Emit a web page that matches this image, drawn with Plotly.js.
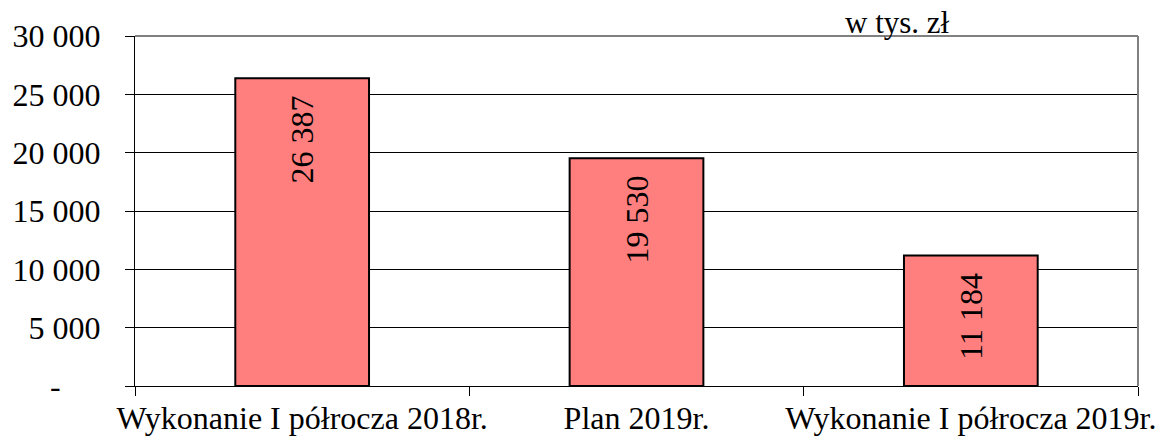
<!DOCTYPE html>
<html>
<head>
<meta charset="utf-8">
<script src="https://cdn.plot.ly/plotly-3.0.1.min.js"></script>
<style>html,body{margin:0;padding:0;background:#fff;}#chart{width:1156px;height:439px;}</style>
</head>
<body>
<div id="chart"></div>
<script>
const categories = ["Wykonanie I półrocza 2018r.", "Plan 2019r.", "Wykonanie I półrocza 2019r."];
const values = [26387, 19530, 11184];
const yTickVals = [0, 5000, 10000, 15000, 20000, 25000, 30000];
const yTickText = ["-\u00a0\u00a0\u00a0\u00a0\u00a0", "5 000", "10 000", "15 000", "20 000", "25 000", "30 000"];
const unitLabel = "w tys. zł";

const font = "Liberation Serif";

const trace = {
  type: "bar",
  x: categories,
  y: values,
  width: 0.4,
  marker: {color: "#FF7F7F", line: {color: "#000000", width: 2}},
  texttemplate: "%{y:,}\u00a0\u2009",
  textposition: "inside",
  insidetextanchor: "end",
  textangle: -90,
  textfont: {family: font, size: 32, color: "#000"},
  hoverinfo: "skip"
};

const layout = {
  width: 1156, height: 439,
  margin: {l: 135, r: 18, t: 36, b: 53},
  paper_bgcolor: "#fff", plot_bgcolor: "#fff",
  separators: ", ",
  showlegend: false,
  font: {family: font, size: 32, color: "#000"},
  xaxis: {
    type: "category",
    showgrid: false,
    showline: true, linecolor: "#000", linewidth: 1,
    ticks: "outside", tickson: "boundaries", ticklen: 9, tickcolor: "#000",
    tickangle: 0,
    ticklabelstandoff: 4,
    tickfont: {family: font, size: 32, color: "#000"},
    zeroline: false
  },
  yaxis: {
    range: [0, 30000],
    tickvals: yTickVals, ticktext: yTickText,
    showgrid: true, gridcolor: "#000", gridwidth: 1,
    showline: true, linecolor: "#000", linewidth: 1,
    ticks: "outside", ticklen: 9, tickcolor: "#000",
    ticklabelstandoff: 18,
    tickfont: {family: font, size: 32, color: "#000"},
    zeroline: false
  },
  shapes: [
    {type: "line", xref: "paper", yref: "paper", x0: 0, x1: 1, y0: 1, y1: 1, line: {color: "#808080", width: 2}},
    {type: "line", xref: "paper", yref: "paper", x0: 1, x1: 1, y0: 0, y1: 1, line: {color: "#808080", width: 2}}
  ],
  annotations: [
    {text: unitLabel, xref: "paper", yref: "paper", x: 0.706, y: 1, xanchor: "left", yanchor: "bottom", yshift: -6, showarrow: false,
     font: {family: font, size: 31, color: "#000"}}
  ]
};

Plotly.newPlot("chart", [trace], layout, {displayModeBar: false, staticPlot: true});
</script>
</body>
</html>
